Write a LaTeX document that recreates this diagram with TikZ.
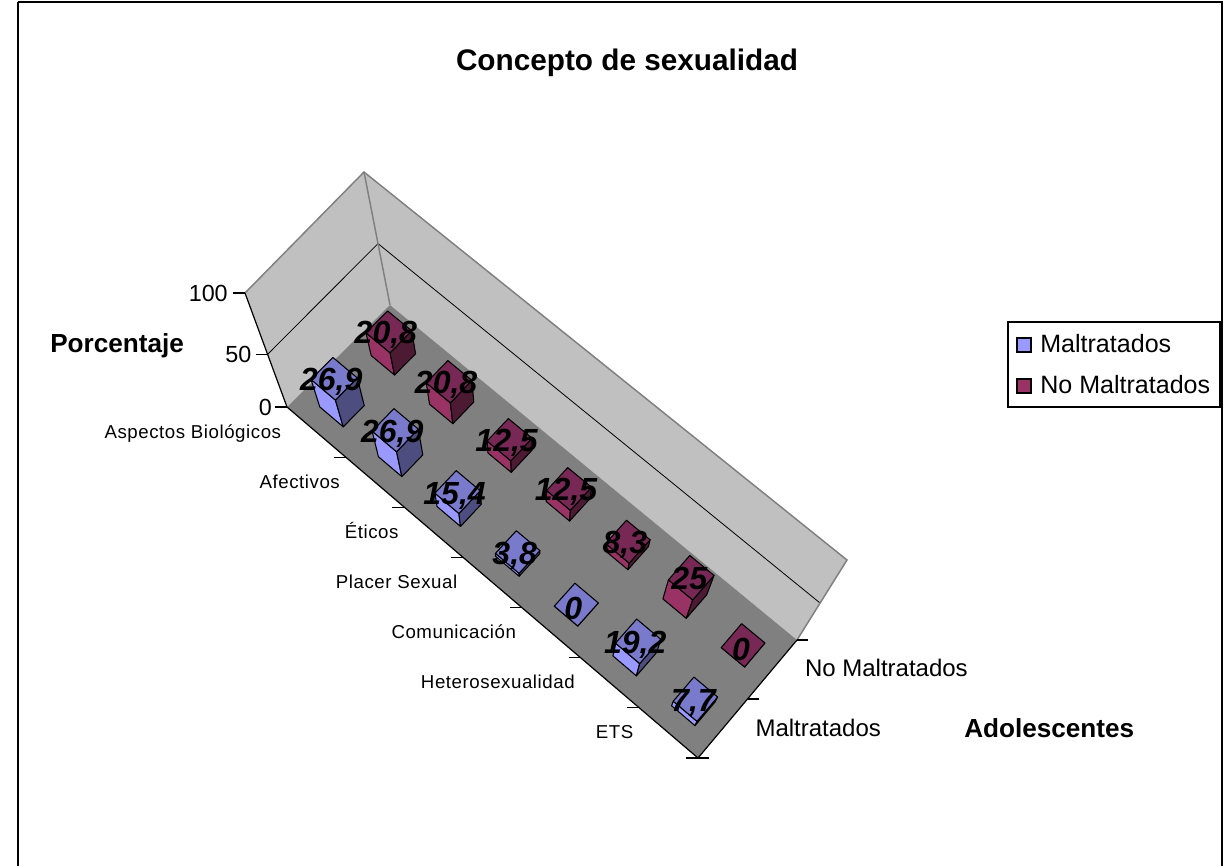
\documentclass[tikz,border=0pt]{standalone}
\usepackage{fontspec}
\setmainfont{Liberation Sans}
\definecolor{mLight}{HTML}{9999FF}
\definecolor{mTop}{HTML}{7A7ACC}
\definecolor{mDark}{HTML}{4D4D80}
\definecolor{nLight}{HTML}{993366}
\definecolor{nTop}{HTML}{782855}
\definecolor{nDark}{HTML}{4D1A33}
\definecolor{wallgray}{HTML}{C0C0C0}
\definecolor{floorgray}{HTML}{808080}
% projection: c = category coordinate (0..7), s = series coordinate (0..2), h = value (0..100)
\newcommand\projpt[4]{%
  \pgfmathsetmacro\prjC{(#1)/7}%
  \pgfmathsetmacro\prjS{(#2)/2}%
  \pgfmathsetmacro\prjG{((#3)/(706-(#3)))/0.165}%
  \pgfmathsetmacro\prjX{287+\prjC*411+\prjS*103-4*\prjC*\prjS+\prjG*(-42+72*\prjC+16*\prjS+4*\prjC*\prjS)}%
  \pgfmathsetmacro\prjY{407+\prjC*351-102*\prjS-16*\prjC*\prjS+\prjG*(-114+55*\prjC-19*\prjS-2*\prjC*\prjS)}%
  \coordinate (#4) at (\prjX,\prjY);%
}
\newcommand\drawbar[5]{%
  \projpt{#1-0.2}{#2-0.205}{0}{b00}%
  \projpt{#1+0.2}{#2-0.205}{0}{b10}%
  \projpt{#1+0.2}{#2+0.205}{0}{b11}%
  \projpt{#1-0.2}{#2-0.205}{#3}{t00}%
  \projpt{#1+0.2}{#2-0.205}{#3}{t10}%
  \projpt{#1+0.2}{#2+0.205}{#3}{t11}%
  \projpt{#1-0.2}{#2+0.205}{#3}{t01}%
  \projpt{#1}{#2}{#3}{#5}%
  \draw[barline, fill=#4Light] (b00) -- (b10) -- (t10) -- (t00) -- cycle;
  \draw[barline, fill=#4Dark] (b10) -- (b11) -- (t11) -- (t10) -- cycle;
  \draw[barline, fill=#4Top] (t00) -- (t10) -- (t11) -- (t01) -- cycle;
}
\begin{document}
\begin{tikzpicture}[x=0.75pt,y=-0.75pt,
  barline/.style={draw=black, line width=0.8pt, line join=round},
  axisline/.style={draw=black, line width=0.9pt},
  edgegray/.style={draw=floorgray, line width=1.1pt},
  gridline/.style={draw=black, line width=0.6pt},
  catlab/.style={font=\fontsize{14}{16}\selectfont\addfontfeature{LetterSpace=3}, inner sep=0pt, anchor=base east},
  vallab/.style={font=\fontsize{17.5}{20}\selectfont, inner sep=0pt, anchor=base east},
  serlab/.style={font=\fontsize{18}{21}\selectfont, inner sep=0pt, anchor=base west},
  leglab/.style={font=\fontsize{18.8}{22}\selectfont, inner sep=0pt, anchor=base west},
  axtitle/.style={font=\bfseries\fontsize{19.6}{23}\selectfont, inner sep=0pt, anchor=base west},
  dlab/.style={font=\bfseries\itshape\fontsize{24}{28}\selectfont, inner sep=0pt, anchor=base},
  legmark/.style={draw=black, line width=0.8pt}]
\useasboundingbox (0,0) rectangle (1225,865);
% outer frame
\draw[black, line width=0.8pt] (18,2) -- (1222,2) -- (1222,880) (18,880) -- (18,2);

% title
\node[font=\bfseries\fontsize{22.3}{26}\selectfont, inner sep=0pt, anchor=base] (title) at (627,70.5) {Concepto de sexualidad};

% key points
\projpt{0}{0}{0}{A}
\projpt{7}{0}{0}{B}
\projpt{7}{2}{0}{C}
\projpt{0}{2}{0}{D}
\projpt{0}{0}{100}{A100}
\projpt{0}{2}{100}{D100}
\projpt{7}{2}{100}{C100}
\projpt{0}{0}{50}{A50}
\projpt{0}{2}{50}{D50}
\projpt{7}{2}{50}{C50}

% walls and floor
\fill[wallgray] (A) -- (A100) -- (D100) -- (D) -- cycle;
\fill[wallgray] (D) -- (D100) -- (C100) -- (C) -- cycle;
\fill[floorgray] (A) -- (B) -- (C) -- (D) -- cycle;
\draw[gridline] (A50) -- (D50) -- (C50);
\draw[edgegray] (A100) -- (D100) -- (C100) -- (C);
\draw[edgegray] (D) -- (D100);
\draw[axisline] (A) -- (A100);
\draw[axisline] (A) -- (B) -- (C);

% value ticks and labels
\draw[axisline] (A) -- ++(-12,0);
\draw[axisline] (A50) -- ++(-12,0);
\draw[axisline] (A100) -- ++(-12,0);
\path (A) ++(-15,8.4) node[vallab] (v0) {0};
\path (A50) ++(-16,8.4) node[vallab] (v50) {50};
\path (A100) ++(-17,8.4) node[vallab] (v100) {100};

% category ticks
\foreach \k in {0,...,7} {
  \projpt{\k}{0}{0}{ct\k}
  \draw[axisline] (ct\k) -- ++(-12,0);
}
% series ticks
\foreach \k in {0,1,2} {
  \projpt{7}{\k}{0}{st\k}
  \draw[axisline] (st\k) -- ++(11,0);
}

% category labels
\foreach \k/\txt in {0/Aspectos Biológicos, 1/Afectivos, 2/Éticos, 3/Placer Sexual, 4/Comunicación, 5/Heterosexualidad, 6/ETS} {
  \projpt{\k+0.5}{0}{0}{cm\k}
  \path (cm\k) ++(-35,6) node[catlab] (cat\k) {\txt};
}
% series labels
\projpt{7}{0.5}{0}{sm0}
\projpt{7}{1.5}{0}{sm1}
\path (sm0) ++(32.5,7.5) node[serlab] (ser0) {Maltratados};
\path (sm1) ++(32.5,7) node[serlab] (ser1) {No Maltratados};

% axis titles
\node[axtitle] (ytitle) at (50,352) {Porcentaje};
\node[axtitle] (ztitle) at (964,737) {Adolescentes};

% bars: No Maltratados (back row) first
\drawbar{0.5}{1.5}{20.8}{n}{tn1}
\drawbar{1.5}{1.5}{20.8}{n}{tn2}
\drawbar{2.5}{1.5}{12.5}{n}{tn3}
\drawbar{3.5}{1.5}{12.5}{n}{tn4}
\drawbar{4.5}{1.5}{8.3}{n}{tn5}
\drawbar{5.5}{1.5}{25}{n}{tn6}
\drawbar{6.5}{1.5}{0}{n}{tn7}
% Maltratados (front row)
\drawbar{0.5}{0.5}{26.9}{m}{tm1}
\drawbar{1.5}{0.5}{26.9}{m}{tm2}
\drawbar{2.5}{0.5}{15.4}{m}{tm3}
\drawbar{3.5}{0.5}{3.8}{m}{tm4}
\drawbar{4.5}{0.5}{0}{m}{tm5}
\drawbar{5.5}{0.5}{19.2}{m}{tm6}
\drawbar{6.5}{0.5}{7.7}{m}{tm7}

% data labels
\path (tn1) ++(-3,12) node[dlab] (ln1) {20,8};
\path (tn2) ++(-3,12) node[dlab] (ln2) {20,8};
\path (tn3) ++(-3,12) node[dlab] (ln3) {12,5};
\path (tn4) ++(-3,12) node[dlab] (ln4) {12,5};
\path (tn5) ++(-3,12) node[dlab] (ln5) {8,3};
\path (tn6) ++(-2,12) node[dlab] (ln6) {25};
\path (tn7) ++(-2,15) node[dlab] (ln7) {0};
\path (tm1) ++(-3,12) node[dlab] (lm1) {26,9};
\path (tm2) ++(-3,12) node[dlab] (lm2) {26,9};
\path (tm3) ++(-3,12) node[dlab] (lm3) {15,4};
\path (tm4) ++(-3,12) node[dlab] (lm4) {3,8};
\path (tm5) ++(-3,15) node[dlab] (lm5) {0};
\path (tm6) ++(-3,12) node[dlab] (lm6) {19,2};
\path (tm7) ++(-2,12) node[dlab] (lm7) {7,7};

% legend
\draw[black, line width=0.8pt] (1008,322) rectangle (1220,407);
\draw[legmark, fill=mLight] (1017,338) rectangle (1031,352);
\draw[legmark, fill=nLight] (1017,379) rectangle (1031,393);
\node[leglab] (leg1) at (1040,352) {Maltratados};
\node[leglab] (leg2) at (1040,393) {No Maltratados};
\end{tikzpicture}
\end{document}
